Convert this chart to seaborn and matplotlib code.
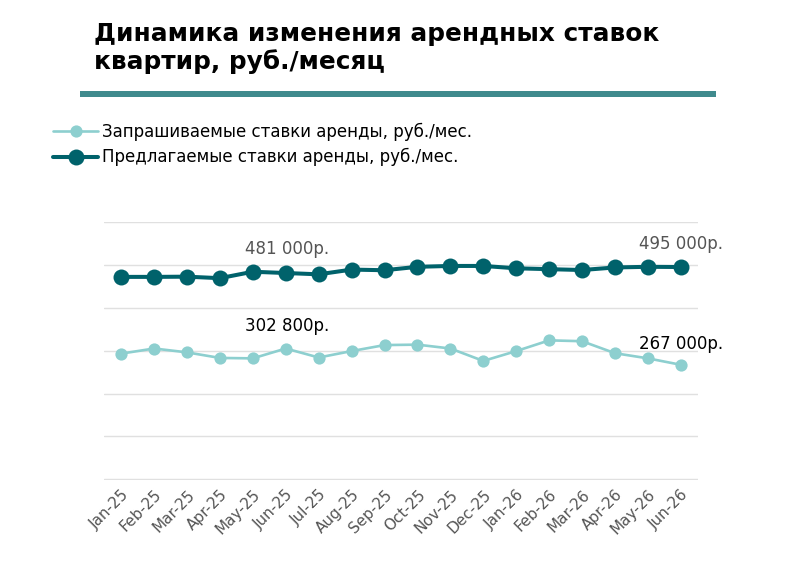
import pandas as pd
import seaborn as sns
import matplotlib.pyplot as plt
from matplotlib.patches import Rectangle

# Data
months = ['Jan-25', 'Feb-25', 'Mar-25', 'Apr-25', 'May-25', 'Jun-25', 'Jul-25', 'Aug-25', 'Sep-25',
          'Oct-25', 'Nov-25', 'Dec-25', 'Jan-26', 'Feb-26', 'Mar-26', 'Apr-26', 'May-26', 'Jun-26']
asked = [293000, 305000, 296000, 283000, 282000, 305000, 284000, 299000, 313000,
         314000, 305000, 276000, 299000, 324000, 322000, 294000, 282000, 267000]
offered = [472000, 472000, 472500, 469000, 484000, 481000, 478000, 489000, 487500,
           495500, 497500, 497500, 492000, 490000, 488000, 494000, 495500, 495000]
name_asked = 'Запрашиваемые ставки аренды, руб./мес.'
name_offered = 'Предлагаемые ставки аренды, руб./мес.'
# (index, text, x offset, y offset) in points
labels_offered = [(4, '481 000р.', 24.5, 10), (17, '495 000р.', 0, 10)]
labels_asked = [(4, '302 800р.', 24.5, 17), (17, '267 000р.', 0, 8.5)]

df = pd.DataFrame({'month': months * 2,
                   'value': asked + offered,
                   'series': [name_asked] * len(months) + [name_offered] * len(months)})
df['pos'] = list(range(len(months))) * 2

sns.set_style('white')
plt.rcParams['font.family'] = ['DejaVu Sans']

fig = plt.figure(figsize=(8, 5.62), dpi=100)
ax = fig.add_axes([0.13, 0.146, 0.7425, 0.459])

light = '#8dcfcf'
dark = '#00626b'

sns.lineplot(data=df[df.series == name_asked], x='pos', y='value', color=light, lw=1.9,
             marker='o', markersize=8.8, markeredgewidth=0, label=name_asked, ax=ax)
sns.lineplot(data=df[df.series == name_offered], x='pos', y='value', color=dark, lw=2.9,
             marker='o', markersize=11.5, markeredgewidth=0, label=name_offered, ax=ax)

ax.set_xlim(-0.52, len(months) - 1 + 0.52)
ax.set_ylim(-1500, 600000)
ax.set_yticks(range(0, 600001, 100000))
ax.set_yticklabels([])
ax.tick_params(axis='y', length=0)
ax.yaxis.grid(True, color='#e0e0e0', lw=1)
ax.set_axisbelow(True)
ax.set_xticks(range(len(months)))
ax.set_xticklabels(months, rotation=45, ha='right', rotation_mode='anchor', color='#555555', fontsize=11)
ax.tick_params(axis='x', length=0, pad=5)
ax.set_xlabel('')
ax.set_ylabel('')
for s in ax.spines.values():
    s.set_visible(False)

# value labels
for i, txt, dx, dy in labels_offered:
    ax.annotate(txt, (i, offered[i]), xytext=(dx, dy), textcoords='offset points',
                ha='center', va='bottom', fontsize=12, color='#555555')
for i, txt, dx, dy in labels_asked:
    ax.annotate(txt, (i, asked[i]), xytext=(dx, dy), textcoords='offset points',
                ha='center', va='bottom', fontsize=12, color='black')

# legend
h, l = ax.get_legend_handles_labels()
ax.get_legend().remove()
leg = fig.legend(h, l, loc='upper left', bbox_to_anchor=(0.058, 0.794), frameon=False, fontsize=12,
                 handlelength=2.7, handletextpad=0.25, labelspacing=0.45, borderaxespad=0)
for t in leg.get_texts():
    t.set_color('black')

# title and bar
fig.text(0.118, 0.961, 'Динамика изменения арендных ставок\nквартир, руб./месяц', ha='left', va='top',
         fontsize=17.8, fontweight='bold', linespacing=1.17, color='black')
fig.add_artist(Rectangle((0.1, 1 - 97 / 562), 0.795, 6 / 562, transform=fig.transFigure,
                         color='#3f8a8d', lw=0))

fig.savefig('out.png', dpi=100)
